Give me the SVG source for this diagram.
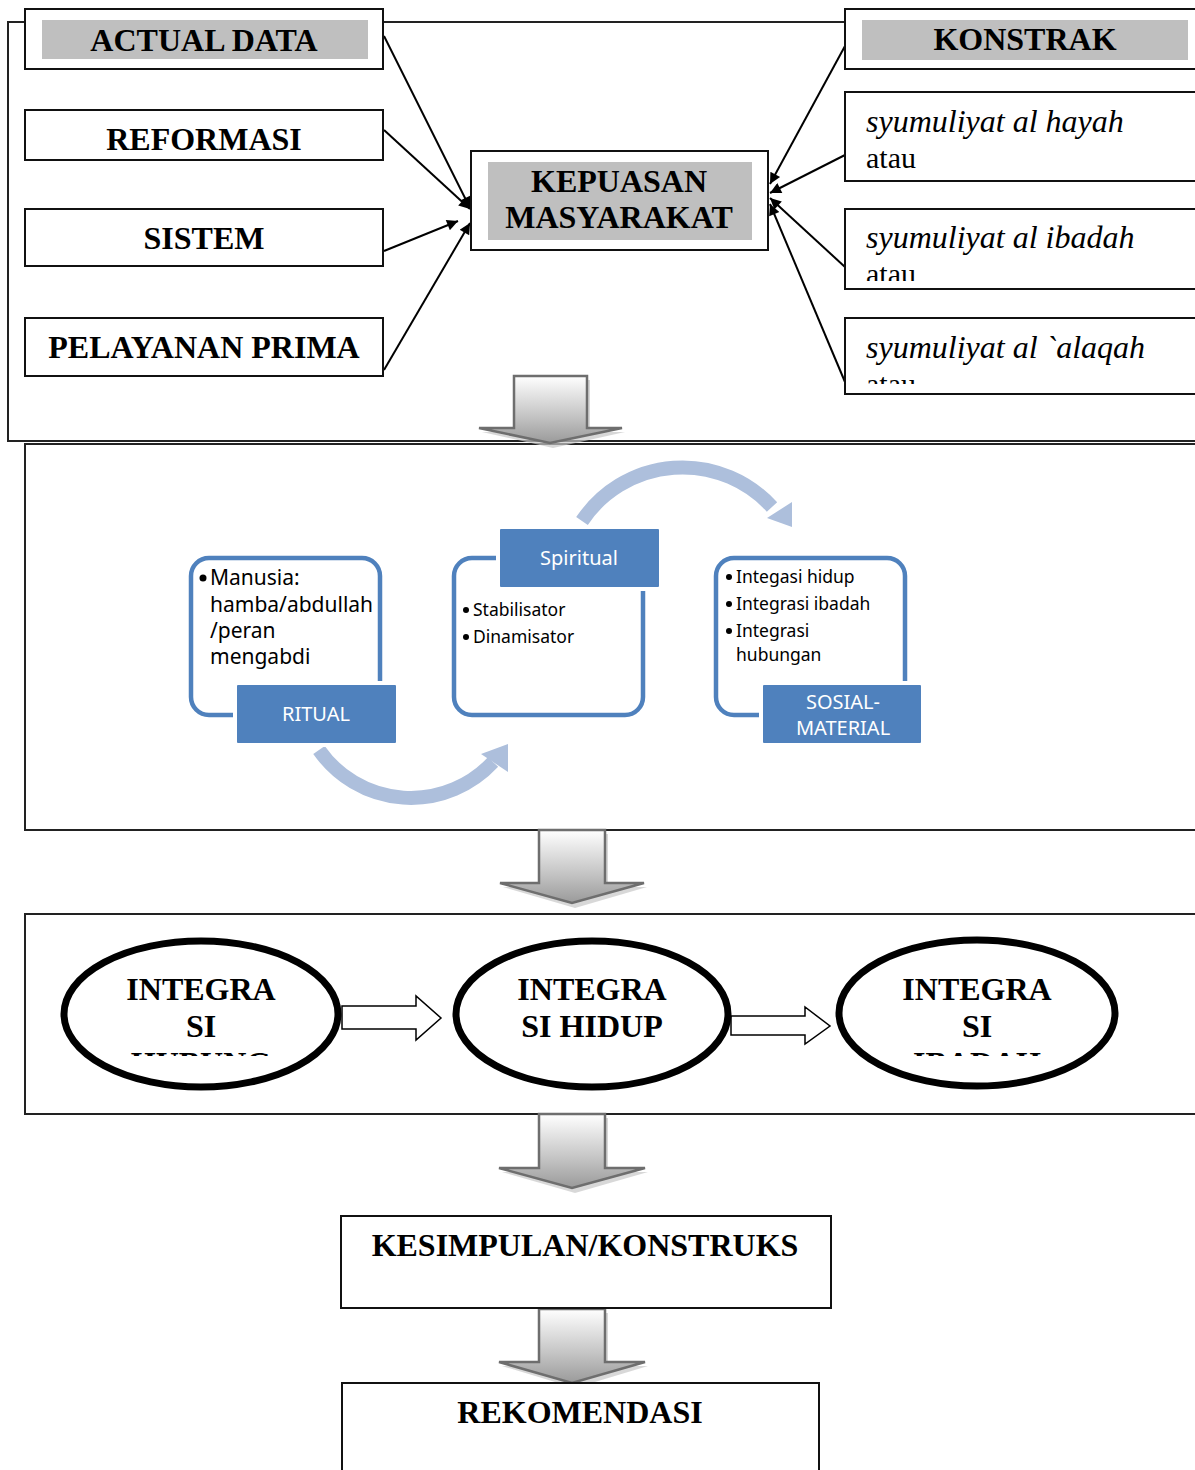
<svg xmlns="http://www.w3.org/2000/svg" width="1195" height="1470" viewBox="0 0 1195 1470">
<style>
.frame{fill:none;stroke:#222;stroke-width:2}
.box{fill:#fff;stroke:#111;stroke-width:2}
.gray{fill:#bfbfbf}
.tb{font-family:"Liberation Serif",serif;font-weight:bold;font-size:32px;fill:#000;text-anchor:middle}
.ti{font-family:"Liberation Serif",serif;font-style:italic;font-size:32px;fill:#000}
.tr{font-family:"Liberation Serif",serif;font-size:30px;fill:#000}
.con{stroke:#000;stroke-width:2;fill:none;marker-end:url(#ah)}
.card{fill:#fff;stroke:#4f81bd;stroke-width:4.5}
.lab{fill:#4f81bd;stroke:#fff;stroke-width:4}
.lt{font-family:"Noto Sans",sans-serif;font-size:20px;fill:#fff;text-anchor:middle}
.bt{font-family:"Noto Sans",sans-serif;fill:#000}
.dot{fill:#000}
.arc{fill:none;stroke:#adbfdc;stroke-width:14}
.ahd{fill:#adbfdc}
.ga{fill:url(#gg);stroke:#6e6e6e;stroke-width:2.5}
.gs{fill:#c8c8c8;opacity:0.7}
.ell{fill:#fff;stroke:#000;stroke-width:7}
.blk{fill:#fff;stroke:#000;stroke-width:1.5}
</style>
<defs>
<marker id="ah" viewBox="0 0 10 10" refX="10" refY="5" markerWidth="14" markerHeight="11" markerUnits="userSpaceOnUse" orient="auto">
<path d="M0,0 L10,5 L0,10 Z" fill="#000"/>
</marker>
<linearGradient id="gg" x1="0" y1="0" x2="0" y2="1">
<stop offset="0" stop-color="#ffffff"/>
<stop offset="0.6" stop-color="#c4c4c4"/>
<stop offset="1" stop-color="#9a9a9a"/>
</linearGradient>
<clipPath id="c1"><rect x="846" y="90" width="360" height="191"/></clipPath>
<clipPath id="c2"><rect x="846" y="300" width="360" height="84"/></clipPath>
<clipPath id="ce"><rect x="0" y="900" width="1195" height="156"/></clipPath>
</defs>

<rect class="frame" x="8" y="22" width="1200" height="419"/>
<rect class="frame" x="25" y="444" width="1200" height="386"/>
<rect class="frame" x="25" y="914" width="1200" height="200"/>

<g id="connectors">
<line class="con" x1="384" y1="36" x2="470" y2="208"/>
<line class="con" x1="384" y1="130" x2="470" y2="209"/>
<line class="con" x1="384" y1="251" x2="458" y2="221"/>
<line class="con" x1="384" y1="370" x2="470" y2="223"/>
<line class="con" x1="845" y1="46" x2="770" y2="184"/>
<line class="con" x1="845" y1="155" x2="770" y2="193"/>
<line class="con" x1="845" y1="267" x2="770" y2="198"/>
<line class="con" x1="845" y1="382" x2="770" y2="204"/>
<path class="arc" d="M319,750 A112,112 0 0 0 493,762"/>
<polygon class="ahd" points="508,744 481,754 508,772"/>
<path class="arc" d="M582,521 A121,121 0 0 1 772,507"/>
<polygon class="ahd" points="792,527 767,518 792,502"/>
<polygon class="blk" points="342,1006 416,1006 416,996 441,1018 416,1040 416,1029 342,1029"/>
<polygon class="blk" points="731,1016 805,1016 805,1007 830,1026 805,1044 805,1035 731,1035"/>
</g>

<g id="down-arrows">
<polygon class="gs" points="517,380 590,380 590,432 625,432 553,448 482,432 517,432"/>
<polygon class="ga" points="514,376 587,376 587,428 622,428 550,443 479,428 514,428"/>
<polygon class="gs" points="542,834 608,834 608,887 647,887 575,908 503,887 542,887"/>
<polygon class="ga" points="539,830 605,830 605,883 644,883 572,903 500,883 539,883"/>
<polygon class="gs" points="542,1118 608,1118 608,1172 648,1172 575,1193 502,1172 542,1172"/>
<polygon class="ga" points="539,1114 605,1114 605,1168 645,1168 572,1188 499,1168 539,1168"/>
<polygon class="gs" points="542,1313 608,1313 608,1366 648,1366 575,1388 502,1366 542,1366"/>
<polygon class="ga" points="539,1309 605,1309 605,1362 645,1362 572,1383 499,1362 539,1362"/>
</g>

<g id="actual-data"><rect class="box" x="25" y="9" width="358" height="60"/><rect class="gray" x="42" y="20" width="326" height="39"/><text class="tb" x="204" y="51">ACTUAL DATA</text></g>
<g id="reformasi"><rect class="box" x="25" y="110" width="358" height="50"/><text class="tb" x="204" y="150">REFORMASI</text></g>
<g id="sistem"><rect class="box" x="25" y="209" width="358" height="57"/><text class="tb" x="204" y="249">SISTEM</text></g>
<g id="pelayanan"><rect class="box" x="25" y="318" width="358" height="58"/><text class="tb" x="204" y="358">PELAYANAN PRIMA</text></g>

<g id="kepuasan"><rect class="box" x="471" y="151" width="297" height="99"/><rect class="gray" x="488" y="162" width="264" height="78"/><text class="tb" x="619" y="192">KEPUASAN</text><text class="tb" x="619" y="228">MASYARAKAT</text></g>

<g id="konstrak"><rect class="box" x="845" y="9" width="370" height="60"/><rect class="gray" x="862" y="20" width="326" height="40"/><text class="tb" x="1025" y="50">KONSTRAK</text></g>
<g id="hayah"><rect class="box" x="845" y="92" width="370" height="89"/><text class="ti" x="866" y="132">syumuliyat al hayah</text><text class="tr" x="866" y="168">atau</text></g>
<g id="ibadah"><rect class="box" x="845" y="209" width="370" height="80"/><text class="ti" x="866" y="248">syumuliyat al ibadah</text><text class="tr" x="866" y="284" clip-path="url(#c1)">atau</text></g>
<g id="alaqah"><rect class="box" x="845" y="318" width="370" height="76"/><text class="ti" x="866" y="358">syumuliyat al `alaqah</text><text class="tr" x="866" y="394" clip-path="url(#c2)">atau</text></g>

<g id="ritual">
<rect class="card" x="191" y="558" width="189" height="157" rx="18"/>
<circle class="dot" cx="203" cy="578" r="3.5"/>
<text class="bt" font-size="21"><tspan x="210" y="585">Manusia:</tspan><tspan x="210" y="612">hamba/abdullah</tspan><tspan x="210" y="638">/peran</tspan><tspan x="210" y="664">mengabdi</tspan></text>
<rect class="lab" x="235" y="683" width="163" height="62" rx="3"/>
<text class="lt" x="316" y="721">RITUAL</text>
</g>
<g id="spiritual">
<rect class="card" x="454" y="558" width="189" height="157" rx="18"/>
<rect class="lab" x="498" y="527" width="163" height="62" rx="3"/>
<text class="lt" x="579" y="565" font-size="21">Spiritual</text>
<circle class="dot" cx="466" cy="610" r="3"/>
<circle class="dot" cx="466" cy="637" r="3"/>
<text class="bt" font-size="17.5"><tspan x="473" y="616">Stabilisator</tspan><tspan x="473" y="643">Dinamisator</tspan></text>
</g>
<g id="sosial">
<rect class="card" x="716" y="558" width="189" height="157" rx="18"/>
<circle class="dot" cx="729" cy="577" r="3"/>
<circle class="dot" cx="729" cy="604" r="3"/>
<circle class="dot" cx="729" cy="631" r="3"/>
<text class="bt" font-size="17.5"><tspan x="736" y="583">Integasi hidup</tspan><tspan x="736" y="610">Integrasi ibadah</tspan><tspan x="736" y="637">Integrasi</tspan><tspan x="736" y="661">hubungan</tspan></text>
<rect class="lab" x="761" y="683" width="162" height="62" rx="3"/>
<text class="lt" x="843" y="709">SOSIAL-</text><text class="lt" x="843" y="735">MATERIAL</text>
</g>

<g id="integrasi-hubung"><ellipse class="ell" cx="201" cy="1014" rx="137" ry="73"/><g clip-path="url(#ce)"><text class="tb" x="201" y="1000">INTEGRA</text><text class="tb" x="201" y="1037">SI</text><text class="tb" x="201" y="1074">HUBUNG</text></g></g>
<g id="integrasi-hidup"><ellipse class="ell" cx="592" cy="1014" rx="136" ry="73"/><text class="tb" x="592" y="1000">INTEGRA</text><text class="tb" x="592" y="1037">SI HIDUP</text></g>
<g id="integrasi-ibadah"><ellipse class="ell" cx="977" cy="1013" rx="138" ry="73"/><g clip-path="url(#ce)"><text class="tb" x="977" y="1000">INTEGRA</text><text class="tb" x="977" y="1037">SI</text><text class="tb" x="977" y="1074">IBADAH</text></g></g>

<g id="kesimpulan"><rect class="box" x="341" y="1216" width="490" height="92"/><text class="tb" x="585" y="1256">KESIMPULAN/KONSTRUKS</text></g>
<g id="rekomendasi"><rect class="box" x="342" y="1383" width="477" height="100"/><text class="tb" x="580" y="1423">REKOMENDASI</text></g>
</svg>
